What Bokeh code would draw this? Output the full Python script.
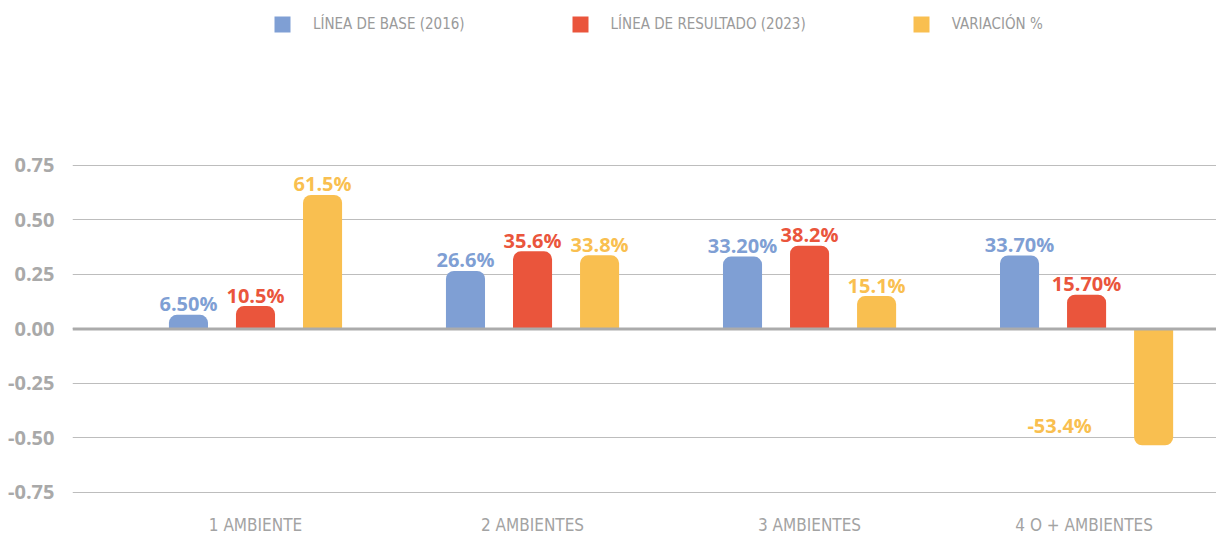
from bokeh.plotting import figure
from bokeh.models import (ColumnDataSource, Range1d, FixedTicker, NumeralTickFormatter,
                          Span, Legend, LegendItem)
from bokeh.transform import dodge
from bokeh.core.properties import value
from bokeh.embed import file_html
from bokeh.resources import INLINE

# ---- data ----
categories = ["1 AMBIENTE", "2 AMBIENTES", "3 AMBIENTES", "4 O +  AMBIENTES"]
series_names = ["LÍNEA DE BASE (2016)", "LÍNEA DE RESULTADO (2023)", "VARIACIÓN %"]
base_2016 = [0.065, 0.266, 0.332, 0.337]
result_2023 = [0.105, 0.356, 0.382, 0.157]
variation = [0.615, 0.338, 0.151, -0.534]
base_labels = ["6.50%", "26.6%", "33.20%", "33.70%"]
result_labels = ["10.5%", "35.6%", "38.2%", "15.70%"]
variation_labels = ["61.5%", "33.8%", "15.1%", "-53.4%"]
y_ticks = [-0.75, -0.5, -0.25, 0.0, 0.25, 0.5, 0.75]

colors = ["#7F9FD4", "#EA553C", "#F9BF50"]
LABEL_FONT = "'Liberation Sans Narrow', 'DejaVu Sans Condensed', sans-serif"

p = figure(frame_width=1144, frame_height=500, output_backend="svg", toolbar_location=None,
           x_range=Range1d(-0.6606, 3.469), y_range=Range1d(-0.787, 1.507),
           min_border_left=72, min_border_right=0, min_border_top=0, min_border_bottom=0)
p.outline_line_color = None
p.background_fill_color = "white"
p.border_fill_color = "white"

# axes
p.xgrid.grid_line_color = None
p.ygrid.grid_line_color = "#BDBDBD"
p.ygrid.grid_line_width = 1
p.yaxis.ticker = FixedTicker(ticks=y_ticks)
p.ygrid.ticker = FixedTicker(ticks=y_ticks)
p.yaxis.formatter = NumeralTickFormatter(format="0.00")
p.yaxis.axis_line_color = None
p.yaxis.major_tick_line_color = None
p.yaxis.minor_tick_line_color = None
p.yaxis.major_label_standoff = 12
p.yaxis.major_label_text_font = "Open Sans"
p.yaxis.major_label_text_font_style = "bold"
p.yaxis.major_label_text_font_size = "20px"
p.yaxis.major_label_text_color = "#A9A9A9"

idx = list(range(len(categories)))
p.xaxis.ticker = FixedTicker(ticks=idx)
p.xaxis.major_label_overrides = {i: c for i, c in zip(idx, categories)}
p.xaxis.axis_line_color = None
p.xaxis.major_tick_line_color = None
p.xaxis.minor_tick_line_color = None
p.xaxis.major_tick_in = 0
p.xaxis.major_tick_out = 0
p.xaxis.major_label_standoff = 14
p.xaxis.major_label_text_font = LABEL_FONT
p.xaxis.major_label_text_font_size = "17px"
p.xaxis.major_label_text_color = "#A3A3A3"

p.add_layout(Span(location=0, dimension="width", line_color="#ABABAB", line_width=3))

offsets = [-0.242, 0.0, 0.242]
all_vals = [base_2016, result_2023, variation]
all_labels = [base_labels, result_labels, variation_labels]
legend_items = []
for k in range(3):
    vals, labs, col, off = all_vals[k], all_labels[k], colors[k], offsets[k]
    pos = ColumnDataSource(dict(x=[i for i, v in zip(idx, vals) if v >= 0],
                                y=[v for v in vals if v >= 0],
                                label=[l for l, v in zip(labs, vals) if v >= 0]))
    neg = ColumnDataSource(dict(x=[i for i, v in zip(idx, vals) if v < 0],
                                y=[v for v in vals if v < 0],
                                label=[l for l, v in zip(labs, vals) if v < 0]))
    r = p.vbar(x=dodge("x", off), top="y", bottom=0, width=0.141, source=pos,
               fill_color=col, line_color=None, border_radius=(8, 8, 0, 0))
    if len(neg.data["x"]):
        p.vbar(x=dodge("x", off), top=0, bottom="y", width=0.141, source=neg,
               fill_color=col, line_color=None, border_radius=(0, 0, 8, 8))
        p.text(x=dodge("x", off), y="y", text="label", source=neg, x_offset=-94, y_offset=-20,
               text_align="center", text_baseline="alphabetic",
               text_font=value("Open Sans"), text_font_style="bold",
               text_font_size="20px", text_color=col)
    p.text(x=dodge("x", off), y="y", text="label", source=pos, y_offset=-11,
           text_align="center", text_baseline="alphabetic",
           text_font=value("Open Sans"), text_font_style="bold",
           text_font_size="20px", text_color=col)
    legend_items.append(LegendItem(label=series_names[k], renderers=[r]))

legend = Legend(items=legend_items, orientation="horizontal", location=(200, 466),
                spacing=105, label_standoff=21, glyph_width=20, glyph_height=20,
                margin=0, padding=6, border_line_color=None, background_fill_alpha=0,
                label_text_font=LABEL_FONT, label_text_font_size="15px",
                label_text_color="#9A9A9A")
p.add_layout(legend)

open("out.html", "w").write(file_html(p, INLINE))
